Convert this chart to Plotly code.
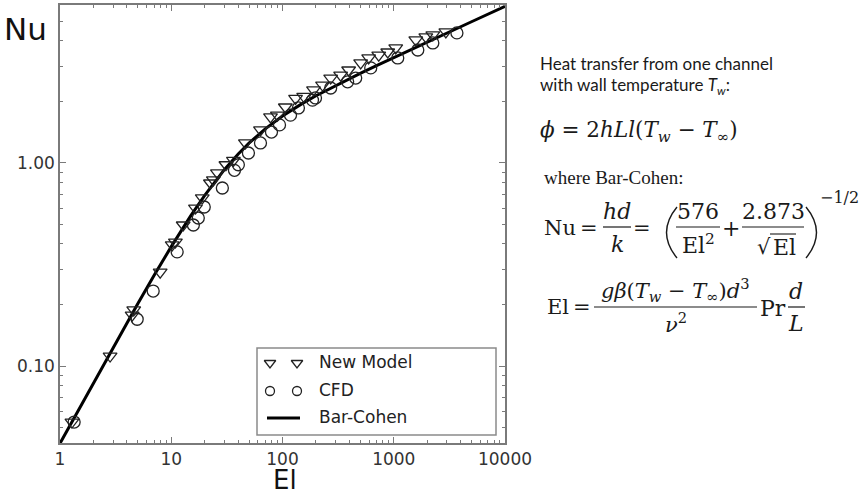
import plotly.graph_objects as go

W, H = 864, 495

# ---------------- data ----------------
el_new = [1.28, 2.82, 4.45, 4.6, 7.95, 10.2, 10.9, 12.8, 16.5, 19.0, 22.5, 23.9, 26.0, 31.0,
          36.2, 46.4, 63.4, 78, 90, 106, 131, 155, 190, 229, 271, 333, 393, 504, 595,
          733, 883, 1042, 1578, 1942, 2245, 2940]
nu_new = [0.053, 0.112, 0.178, 0.189, 0.290, 0.395, 0.408, 0.495, 0.600, 0.673, 0.797, 0.825,
          0.893, 0.98, 1.03, 1.255, 1.454, 1.685, 1.72, 1.887, 2.08, 2.13, 2.29, 2.42, 2.62,
          2.71, 2.87, 3.11, 3.29, 3.40, 3.52, 3.69, 4.04, 4.18, 4.27, 4.42]

el_cfd = [1.34, 4.94, 6.88, 11.3, 15.8, 17.5, 19.8, 28.8, 37, 40.1, 49.4, 63.4, 79.6, 94,
          118, 139, 186, 198, 271, 385, 455, 621, 1086, 1645, 2245, 3697]
nu_cfd = [0.053, 0.170, 0.234, 0.365, 0.495, 0.536, 0.607, 0.753, 0.92, 0.98, 1.12, 1.255,
          1.42, 1.54, 1.72, 1.866, 2.04, 2.09, 2.34, 2.51, 2.62, 2.94, 3.29, 3.60, 3.90, 4.37]

el_bc = [1, 1.5, 2, 3, 4, 5, 7, 10, 15, 20, 30, 40, 50, 70, 100, 150, 200, 300, 400, 500,
         700, 1000, 2000, 3000, 5000, 10000]
nu_bc = [0.0416, 0.0622, 0.0828, 0.1234, 0.1634, 0.2028, 0.2791, 0.3872, 0.5503, 0.6930,
         0.9267, 1.1082, 1.2533, 1.473, 1.7027, 1.9604, 2.144, 2.409, 2.606, 2.765, 3.018,
         3.307, 3.941, 4.364, 4.960, 5.899]

x_tickvals = [1, 10, 100, 1000, 10000]
x_ticktext = ["1", "10", "100", "1000", "10000"]
y_tickvals = [0.1, 1.0]
y_ticktext = ["0.10", "1.00"]
x_minor = [m * 10 ** k for k in range(4) for m in range(2, 10)]
y_minor = [m / 100 for m in range(5, 10)] + [m / 10 for m in range(2, 10)] + [2, 3, 4, 5, 6]

names = ["New Model", "CFD", "Bar-Cohen"]

# ---------------- figure ----------------
AX = "#7a7a7a"
INK = "#1a1a1a"
fig = go.Figure()

fig.add_trace(go.Scatter(x=el_bc, y=nu_bc, mode="lines", name=names[2],
                         line=dict(color="black", width=3), showlegend=False))
fig.add_trace(go.Scatter(x=el_cfd, y=nu_cfd, mode="markers", name=names[1],
                         marker=dict(symbol="circle-open", size=12, color="#222",
                                     line=dict(width=1.3, color="#222")), showlegend=False))
fig.add_trace(go.Scatter(x=el_new, y=nu_new, mode="markers", name=names[0],
                         marker=dict(symbol="triangle-down-open", size=12, color="#222",
                                     line=dict(width=1.3, color="#222")), showlegend=False))

# ---- custom legend (two sample markers like the original) on a hidden axis pair ----
LX0, LX1, LY0, LY1 = 257, 496, 348, 435
fig.add_trace(go.Scatter(x=[270, 297], y=[363, 363], mode="markers", xaxis="x2", yaxis="y2",
                         marker=dict(symbol="triangle-down-open", size=10, color="#222",
                                     line=dict(width=1.3, color="#222")),
                         showlegend=False, hoverinfo="skip"))
fig.add_trace(go.Scatter(x=[270, 297], y=[391, 391], mode="markers", xaxis="x2", yaxis="y2",
                         marker=dict(symbol="circle-open", size=9, color="#222",
                                     line=dict(width=1.3, color="#222")),
                         showlegend=False, hoverinfo="skip"))
fig.add_trace(go.Scatter(x=[267, 300], y=[418, 418], mode="lines", xaxis="x2", yaxis="y2",
                         line=dict(color="black", width=3), showlegend=False, hoverinfo="skip"))


def px(x):
    return x / W


def py(y):
    return 1 - y / H


ann = []


def text(x, y, s, size, family="DejaVu Serif", xanchor="left", color=INK):
    ann.append(dict(x=px(x), y=py(y), xref="paper", yref="paper", text=s, showarrow=False,
                    xanchor=xanchor, yanchor="middle", font=dict(family=family, size=size, color=color)))


shapes = []


def hline(x0, x1, y, w=1.2):
    shapes.append(dict(type="line", xref="paper", yref="paper", x0=px(x0), x1=px(x1),
                       y0=py(y), y1=py(y), line=dict(color=INK, width=w)))


def paren(xe, xc, ytop, ybot, w=1.4):
    ym = (ytop + ybot) / 2
    p = f"M {px(xe)},{py(ytop)} Q {px(xc)},{py(ym)} {px(xe)},{py(ybot)}"
    shapes.append(dict(type="path", xref="paper", yref="paper", path=p,
                       line=dict(color=INK, width=w)))


# legend box and labels
shapes.append(dict(type="rect", xref="paper", yref="paper", x0=px(LX0), x1=px(LX1),
                   y0=py(LY1), y1=py(LY0), line=dict(color="#8a8a8a", width=1.5),
                   fillcolor="rgba(0,0,0,0)"))
text(317, 362, names[0], 17, "DejaVu Sans", color="#222")
text(317, 390, names[1], 17, "DejaVu Sans", color="#222")
text(317, 417, names[2], 17, "DejaVu Sans", color="#222")

# axis titles
text(25, 29, "Nu", 31, "DejaVu Sans", xanchor="center", color="#111")
text(285, 480, "El", 26, "DejaVu Sans", xanchor="center", color="#111")

# right-hand explanation
text(538, 64, "Heat transfer from one channel", 17, "Lato")
text(538, 86, "with wall temperature <i>T<sub>w</sub></i>:", 17, "Lato")
text(538, 132, "<i>ϕ</i> = 2<i>hLl</i>(<i>T<sub>w</sub></i> − <i>T</i><sub>∞</sub>)", 21.5)
text(542, 177, "where Bar-Cohen:", 19, "Liberation Serif")

# Nu = hd/k = (576/El^2 + 2.873/sqrt(El))^(-1/2)
text(542, 228, "Nu", 21)
text(589, 228, "=", 21, xanchor="center")
text(617, 211, "<i>hd</i>", 22, xanchor="center")
hline(603, 631, 227)
text(617, 244, "<i>k</i>", 22, xanchor="center")
text(642, 228, "=", 21, xanchor="center")
paren(677, 656, 207, 258)
text(698, 211, "576", 22, xanchor="center")
hline(676, 720, 227)
text(698, 244, "El<sup>2</sup>", 22, xanchor="center")
text(731, 228, "+", 22, xanchor="center")
text(773, 211, "2.873", 22, xanchor="center")
hline(742, 804, 227)
text(764, 247, "√", 21, xanchor="center")
hline(770, 796, 234, w=1.1)
text(784, 247, "El", 22, xanchor="center")
paren(806, 827, 207, 258)
text(818, 197, "−1/2", 16)

# El = g beta (Tw - Tinf) d^3 / nu^2 Pr d/L
text(545, 307, "El", 21)
text(582, 307, "=", 21, xanchor="center")
text(675, 290, "<i>gβ</i>(<i>T<sub>w</sub></i> − <i>T</i><sub>∞</sub>)<i>d</i><sup>3</sup>", 21, xanchor="center")
hline(594, 757, 307)
text(676, 323, "<i>ν</i><sup>2</sup>", 21, xanchor="center")
text(773, 308, "Pr", 22, xanchor="center")
text(796, 291, "<i>d</i>", 22, xanchor="center")
hline(788, 805, 307)
text(796, 323, "<i>L</i>", 22, xanchor="center")

tickfont = dict(family="DejaVu Sans", size=17, color="#333")
fig.update_layout(
    width=W, height=H, margin=dict(l=0, r=0, t=0, b=0, pad=0),
    paper_bgcolor="white", plot_bgcolor="white", template="none",
    xaxis=dict(type="log", range=[0, 4], domain=[px(60), px(505)], anchor="y",
               showline=True, linecolor=AX, linewidth=1.5, mirror="ticks",
               ticks="inside", ticklen=6, tickwidth=1.2, tickcolor=AX,
               tickmode="array", tickvals=x_tickvals, ticktext=x_ticktext, tickfont=tickfont,
               showgrid=False, zeroline=False, automargin=False,
               minor=dict(ticks="inside", ticklen=3, tickwidth=1, tickcolor=AX,
                          tickvals=x_minor, showgrid=False)),
    yaxis=dict(type="log", range=[-1.379, 0.778], domain=[py(443), py(5)], anchor="x",
               showline=True, linecolor=AX, linewidth=1.5, mirror="ticks",
               ticks="inside", ticklen=6, tickwidth=1.2, tickcolor=AX,
               tickmode="array", tickvals=y_tickvals, ticktext=y_ticktext, tickfont=tickfont,
               showgrid=False, zeroline=False, automargin=False,
               minor=dict(ticks="inside", ticklen=3, tickwidth=1, tickcolor=AX,
                          tickvals=y_minor, showgrid=False)),
    xaxis2=dict(domain=[px(LX0), px(LX1)], range=[LX0, LX1], anchor="y2", visible=False,
                fixedrange=True),
    yaxis2=dict(domain=[py(LY1), py(LY0)], range=[LY1, LY0], anchor="x2", visible=False,
                fixedrange=True),
    annotations=ann, shapes=shapes, showlegend=False,
)

fig.write_html("out.html")
